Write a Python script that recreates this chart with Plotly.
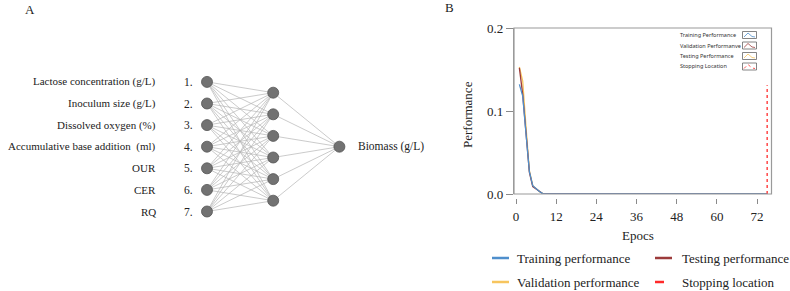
import plotly.graph_objects as go

W, H = 790, 291

# ---------------- data ----------------
input_labels = ["Lactose concentration (g/L)", "Inoculum size (g/L)", "Dissolved oxygen (%)",
                "Accumulative base addition  (ml)", "OUR", "CER", "RQ"]
input_numbers = ["1.", "2.", "3.", "4.", "5.", "6.", "7."]
layer_sizes = [7, 6, 1]
output_label = "Biomass (g/L)"

epochs = [1, 2, 3, 4, 5, 6, 7, 8, 12, 20, 28, 36, 45, 55, 65, 75]
training = [0.132, 0.118, 0.072, 0.027, 0.010, 0.006, 0.003, 0.0004, 0.0003, 0.0002,
            0.0002, 0.0001, 0.0001, 0.0001, 0.0001, 0.0001]
testing = [0.152, 0.120, 0.073, 0.026, 0.009, 0.006, 0.003, 0.0004, 0.0003, 0.0002,
           0.0002, 0.0001, 0.0001, 0.0001, 0.0001, 0.0001]
validation = [0.153, 0.136, 0.080, 0.028, 0.010, 0.006, 0.003, 0.0005, 0.0004, 0.0004,
              0.0006, 0.0006, 0.0005, 0.0003, 0.0002, 0.0002]
stop_epoch = 75
stop_height = 0.131
x_ticks = [0, 12, 24, 36, 48, 60, 72]
y_ticks = [0, 0.1, 0.2]
y_ticktext = ["0.0", "0.1", "0.2"]

legend_names = ["Training performance", "Testing performance",
                "Validation performance", "Stopping location"]
inner_legend_names = ["Training Performance", "Validation Performanve",
                      "Testing Performance", "Stopping Location"]

# ---------------- styles ----------------
C_TRAIN = "#4f8fcc"
C_TEST = "#9c3b3b"
C_VALID = "#f7c55e"
C_STOP = "#ff2a2a"
SERIF = "Liberation Serif, Times New Roman, serif"
SANS = "Noto Sans, Arial, sans-serif"


def px(x):
    return x / W


def py(y):
    return 1 - y / H


def txt(x, y, text, size, xanchor="center", yanchor="middle", family=SERIF, color="#222",
        xref="paper", yref="paper", **kw):
    if xref == "paper":
        x, y = px(x), py(y)
    return dict(x=x, y=y, xref=xref, yref=yref, text=text, showarrow=False,
                xanchor=xanchor, yanchor=yanchor, font=dict(family=family, size=size, color=color),
                **kw)


fig = go.Figure()

# ---------------- panel A: network diagram ----------------
layer_x0, layer_dx = 207, 66.2
center_y, node_dy = 146.7, 21.6
nodes = []
for li, n in enumerate(layer_sizes):
    xs = layer_x0 + li * layer_dx
    nodes.append([(xs, center_y + (i - (n - 1) / 2) * node_dy) for i in range(n)])

ex, ey = [], []
for a, b in zip(nodes[:-1], nodes[1:]):
    for (x1, y1) in a:
        for (x2, y2) in b:
            ex += [x1, x2, None]
            ey += [y1, y2, None]
fig.add_trace(go.Scatter(x=ex, y=ey, mode="lines", xaxis="x2", yaxis="y2",
                         line=dict(color="#b4b4b4", width=0.7), hoverinfo="skip",
                         showlegend=False))
allx = [p[0] for layer in nodes for p in layer]
ally = [p[1] for layer in nodes for p in layer]
fig.add_trace(go.Scatter(x=allx, y=ally, mode="markers", xaxis="x2", yaxis="y2",
                         marker=dict(size=11, color="#727272",
                                     line=dict(color="#555555", width=0.8)),
                         hoverinfo="skip", showlegend=False))

annotations = []
for (x, y), lab, num in zip(nodes[0], input_labels, input_numbers):
    annotations.append(txt(157.5, y, lab, 11, xanchor="right", xref="x2", yref="y2"))
    annotations.append(txt(181.5, y, num, 11.5, xanchor="left", xref="x2", yref="y2"))
ox, oy = nodes[-1][0]
annotations.append(txt(ox + 17, oy, output_label, 11.5, xanchor="left", xref="x2", yref="y2"))

# ---------------- panel B: performance ----------------
fig.add_trace(go.Scatter(x=epochs, y=validation, mode="lines", name=legend_names[2],
                         line=dict(color=C_VALID, width=1.3), showlegend=False))
fig.add_trace(go.Scatter(x=epochs, y=testing, mode="lines", name=legend_names[1],
                         line=dict(color=C_TEST, width=1.3), showlegend=False))
fig.add_trace(go.Scatter(x=epochs, y=training, mode="lines", name=legend_names[0],
                         line=dict(color=C_TRAIN, width=1.3), showlegend=False))
fig.add_trace(go.Scatter(x=[stop_epoch, stop_epoch], y=[0, stop_height], mode="lines",
                         name=legend_names[3], line=dict(color=C_STOP, width=1.3, dash="dot"),
                         showlegend=False))

shapes = []
# plot frame
shapes.append(dict(type="rect", xref="x domain", yref="y domain", x0=0, x1=1, y0=0, y1=1,
                   line=dict(color="#9a9a9a", width=1.2), layer="above"))

# panel letters and titles
annotations += [
    txt(30, 9, "A", 13),
    txt(449, 7.5, "B", 13),
    txt(468, 115, "Performance", 13, textangle=-90),
    txt(638, 235, "Epocs", 13),
]

# bottom legend (two columns)
leg_cols = [(492, 515), (655, 680)]
leg_rows = [258, 282]
leg_items = [(legend_names[0], C_TRAIN, "solid", 0, 0), (legend_names[1], C_TEST, "solid", 1, 0),
             (legend_names[2], C_VALID, "solid", 0, 1), (legend_names[3], C_STOP, "dash", 1, 1)]
for name, col, dash, ci, ri in leg_items:
    lx, tx = leg_cols[ci]
    yy = leg_rows[ri]
    shapes.append(dict(type="line", xref="paper", yref="paper", x0=px(lx), x1=px(lx + 17),
                       y0=py(yy), y1=py(yy), line=dict(color=col, width=2.5, dash=dash)))
    annotations.append(txt(tx, yy, name, 13, xanchor="left"))

# inner small legend
inner_rows = [35, 45.5, 56, 66.5]
inner_cols = [C_TRAIN, C_TEST, C_VALID, C_STOP]
for k, (name, yy, col) in enumerate(zip(inner_legend_names, inner_rows, inner_cols)):
    annotations.append(txt(677.5, yy, name, 5.5, xanchor="left", family=SANS, color="#333"))
    bx0, bx1 = 742.5, 756.5
    shapes.append(dict(type="rect", xref="paper", yref="paper", x0=px(bx0), x1=px(bx1),
                       y0=py(yy + 3.5), y1=py(yy - 3.5),
                       line=dict(color="#666666", width=0.8)))
    path = "M {:.5f},{:.5f} L {:.5f},{:.5f} L {:.5f},{:.5f} L {:.5f},{:.5f}".format(
        px(bx0 + 1.5), py(yy + 2), px(bx0 + 5.5), py(yy - 2), px(bx0 + 9.5), py(yy + 1.5),
        px(bx1 - 1.5), py(yy + 2))
    shapes.append(dict(type="path", xref="paper", yref="paper", path=path,
                       line=dict(color=col, width=0.8, dash="dot" if k == 3 else "solid")))

fig.update_layout(
    width=W, height=H, margin=dict(l=0, r=0, t=0, b=0, pad=0), autosize=False,
    paper_bgcolor="white", plot_bgcolor="white", showlegend=False,
    xaxis=dict(domain=[px(514), px(771.5)], range=[-0.6, 76.3], tickvals=x_ticks,
               ticks="outside", ticklen=5, tickcolor="#8a8a8a", tickwidth=1,
               anchor="free", position=py(198), showline=False, showgrid=False,
               zeroline=False, ticklabelstandoff=1, automargin=False,
               tickfont=dict(family=SERIF, size=13, color="#222")),
    yaxis=dict(domain=[py(194), py(28)], range=[0, 0.2], tickvals=y_ticks,
               ticktext=y_ticktext, ticks="outside", ticklen=7, tickcolor="#8a8a8a",
               showline=True, linecolor="#9a9a9a", linewidth=1.2, showgrid=False,
               zeroline=False, automargin=False,
               tickfont=dict(family=SERIF, size=13, color="#222")),
    xaxis2=dict(domain=[0, px(440)], range=[0, 440], visible=False, fixedrange=True,
                anchor="y2", automargin=False),
    yaxis2=dict(domain=[0, 1], range=[H, 0], visible=False, fixedrange=True, anchor="x2",
                automargin=False),
    shapes=shapes, annotations=annotations,
)

fig.write_html("out.html", config={"displayModeBar": False},
               post_script="document.body.style.margin='0';")
